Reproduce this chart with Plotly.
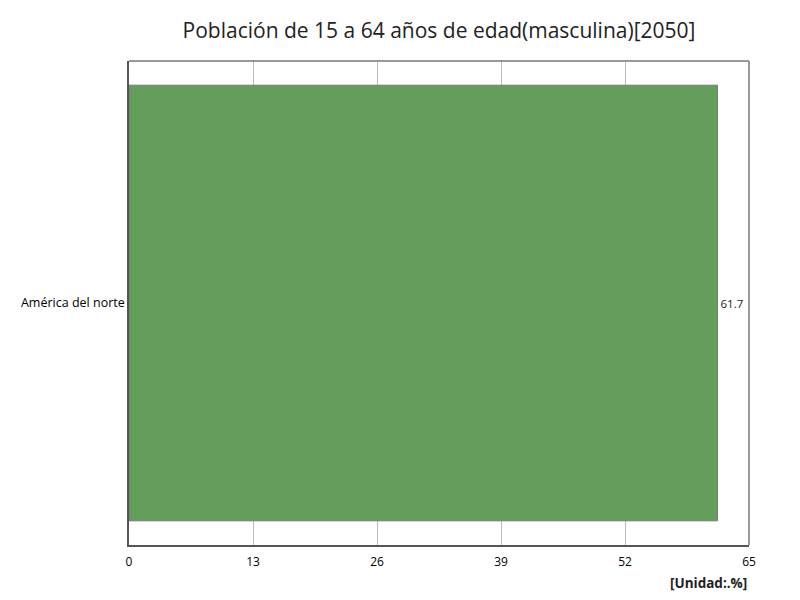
import plotly.graph_objects as go

categories = ["América del norte"]
values = [61.7]
tick_vals = [0, 13, 26, 39, 52, 65]

fig = go.Figure()
fig.add_trace(go.Bar(
    x=values, y=categories, orientation="h",
    marker=dict(color="#639e5b", line=dict(color="#777777", width=1)),
    width=0.9,
    text=[f"{v}" for v in values], textposition="outside",
    textfont=dict(size=11.5, color="#222222", family="Open Sans"),
    cliponaxis=False,
))

fig.update_layout(
    width=800, height=600,
    margin=dict(l=121, r=59, t=53, b=63),
    paper_bgcolor="white", plot_bgcolor="white",
    font=dict(family="Open Sans", size=12, color="#000000"),
    title=dict(text="Población de 15 a 64 años de edad(masculina)[2050]",
               x=0.5, xanchor="center", xref="paper", y=0.963, yanchor="middle",
               font=dict(size=21, color="#222222", family="Open Sans")),
    showlegend=False,
    bargap=0.1,
)
fig.update_xaxes(
    range=[0, 65], tickvals=tick_vals, ticktext=[str(t) for t in tick_vals],
    showgrid=True, gridcolor="#bbbbbb", gridwidth=1,
    showline=True, linecolor="#555555", linewidth=1.5,
    mirror=False, zeroline=False, ticks="", ticklen=0,
    ticklabelstandoff=5,
    tickfont=dict(size=12, color="#000000"),
)
fig.update_yaxes(
    showline=True, linecolor="#555555", linewidth=1.5,
    showgrid=False, ticks="", zeroline=False,
    tickfont=dict(size=12.5, color="#000000"),
)
# top and right frame lines
fig.add_shape(type="line", xref="paper", yref="paper", x0=0, x1=1, y0=1, y1=1,
              line=dict(color="#777777", width=1.5))
fig.add_shape(type="line", xref="paper", yref="paper", x0=1, x1=1, y0=0, y1=1,
              line=dict(color="#777777", width=1.5))
fig.add_annotation(text="<b>[Unidad:.%]</b>", xref="paper", yref="paper",
                   x=1, y=-0.0785, xanchor="right", yanchor="middle",
                   showarrow=False, font=dict(size=13.5, color="#222222"))

fig.write_html("out.html")
